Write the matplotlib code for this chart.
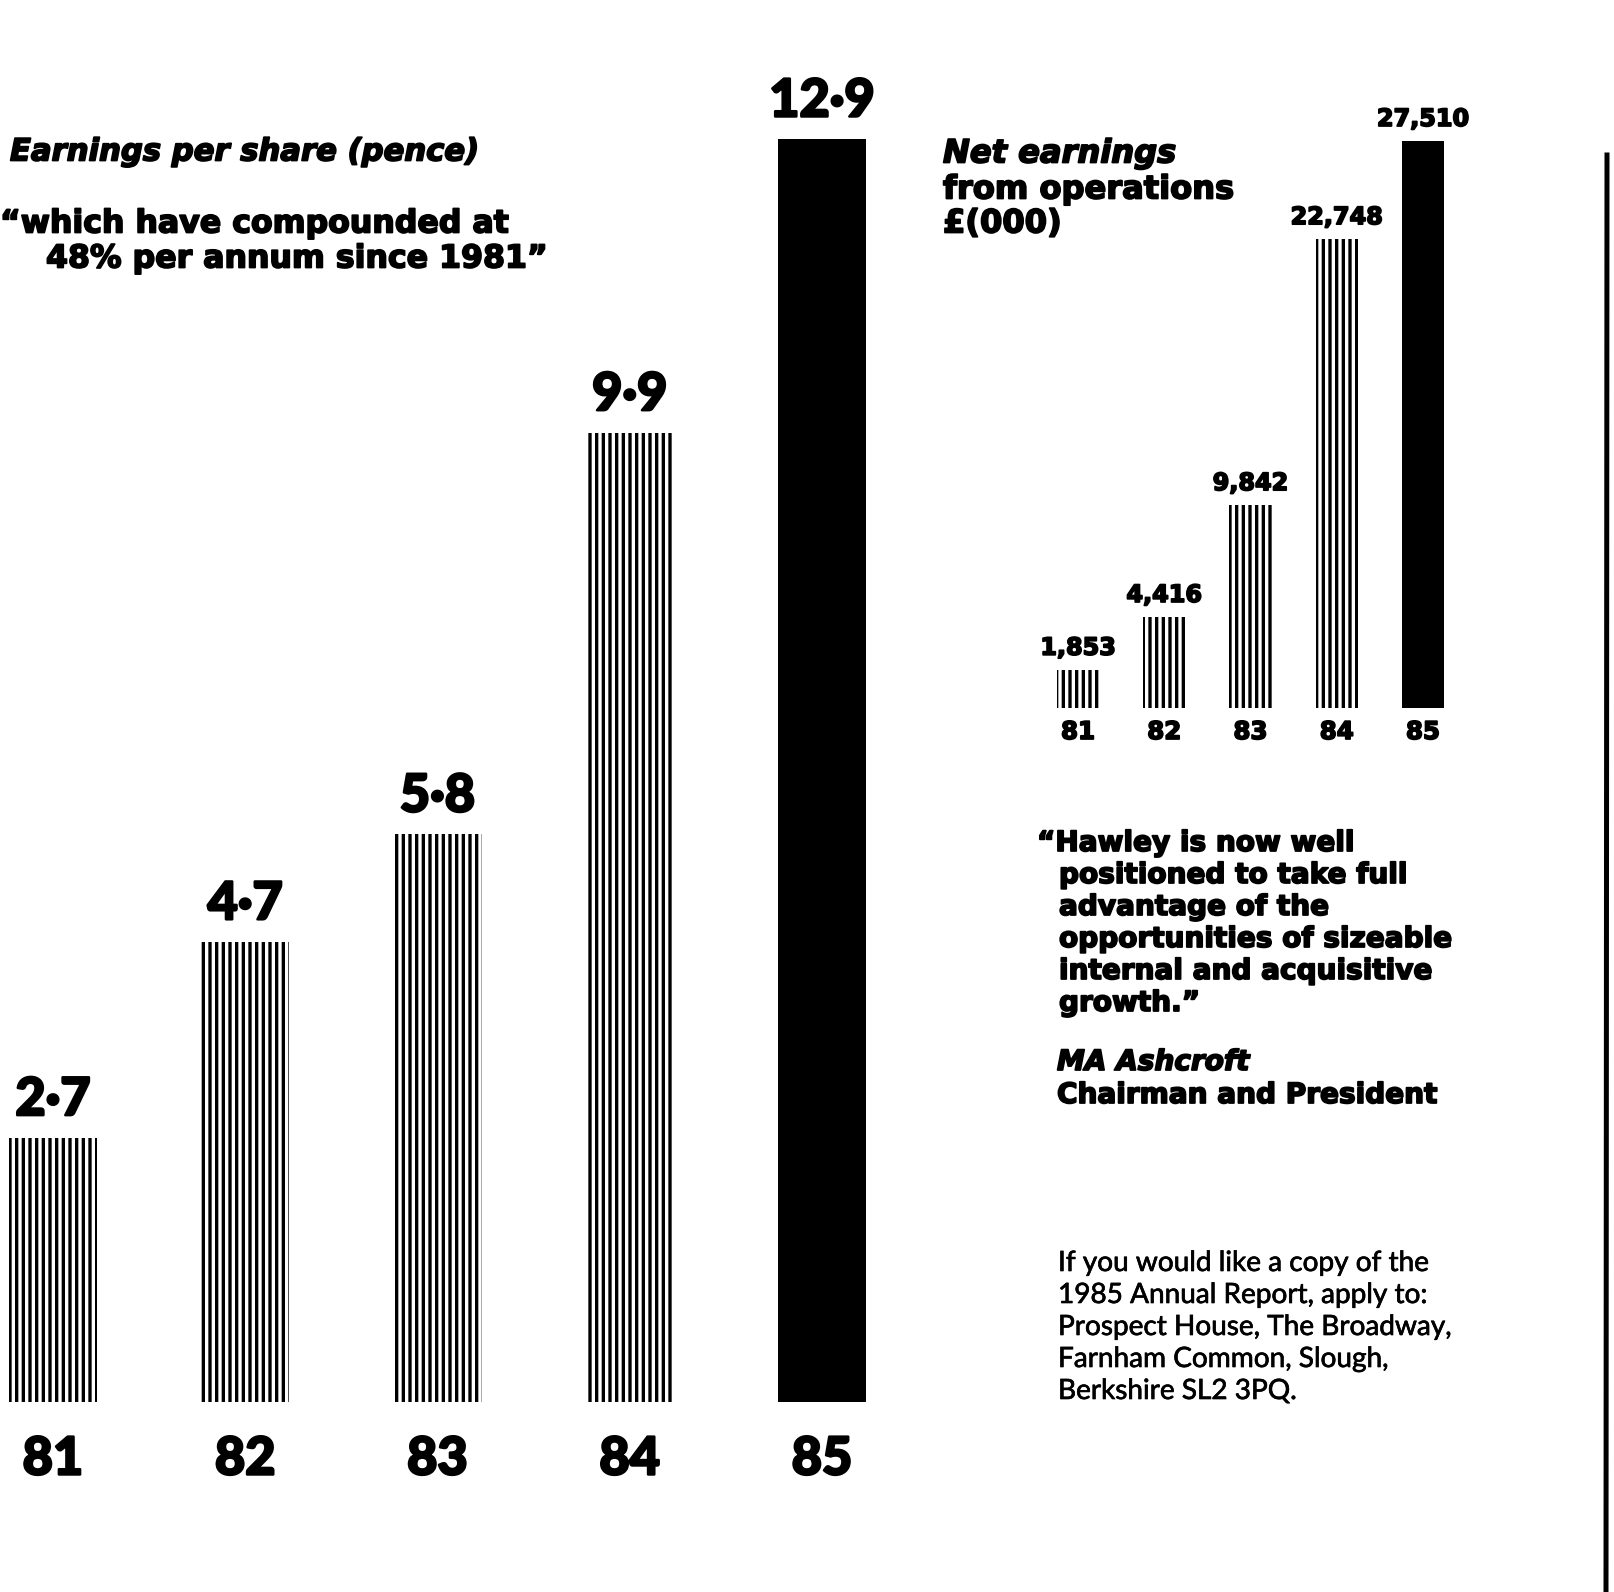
import matplotlib
matplotlib.use("Agg")
import matplotlib.pyplot as plt
import matplotlib.patheffects as pe
from matplotlib.lines import Line2D

# Data read from the advert
years = ["81", "82", "83", "84", "85"]
eps_pence = [2.7, 4.7, 5.8, 9.9, 12.9]
eps_labels = ["2·7", "4·7", "5·8", "9·9", "12·9"]
net_earnings = [1853, 4416, 9842, 22748, 27510]
net_labels = ["1,853", "4,416", "9,842", "22,748", "27,510"]

W, H = 1614, 1592
DPI = 80

plt.rcParams['font.family'] = ['Lato', 'DejaVu Sans']
plt.rcParams['hatch.linewidth'] = 3.0

HEAVY = ['DejaVu Sans']
# thicken the glyphs a bit, the print face is very heavy
THICK = [pe.withStroke(linewidth=1.6, foreground='black')]
THICK_BIG = [pe.withStroke(linewidth=2.2, foreground='black')]


def fx(px):
    return px / W


def fy(py):
    return 1 - py / H


def pt(px):
    # pixel offset -> points
    return px * 72 / DPI


fig = plt.figure(figsize=(W / DPI, H / DPI), dpi=DPI)
fig.patch.set_facecolor('white')
renderer = fig.canvas.get_renderer()


def fit_size(text, width_px, **kw):
    """font size that makes text about width_px wide"""
    t = fig.text(0, 0, text, fontsize=20, **kw)
    w = t.get_window_extent(renderer).width
    t.remove()
    return 20 * width_px / w


# Left chart: earnings per share
ax1 = fig.add_axes([fx(0), fy(1402), fx(880), (1402 - 139) / H])
ax1.set_xlim(-53 / 192.25, (880 - 53) / 192.25)
ax1.set_ylim(0, max(eps_pence))
ax1.axis('off')
colors1 = ['white'] * 4 + ['black']
hatches1 = ['||'] * 4 + ['']
for i, v in enumerate(eps_pence):
    ax1.bar(i, v, width=0.46, color=colors1[i], edgecolor='black',
            linewidth=0, hatch=hatches1[i])
    ax1.annotate(eps_labels[i], (i, v), xytext=(0, pt(37)),
                 textcoords='offset points', ha='center', va='center',
                 fontsize=47, fontweight='black', annotation_clip=False,
                 path_effects=THICK_BIG)
    ax1.annotate(years[i], (i, 0), xytext=(0, -pt(58)),
                 textcoords='offset points', ha='center', va='center',
                 fontsize=47, fontweight='black', annotation_clip=False,
                 path_effects=THICK_BIG)

# Right chart: net earnings from operations
ax2 = fig.add_axes([fx(1000), fy(708), fx(480), (708 - 141) / H])
ax2.set_xlim(-78 / 86.25, (1480 - 1078) / 86.25)
ax2.set_ylim(0, max(net_earnings))
ax2.axis('off')
for i, v in enumerate(net_earnings):
    ax2.bar(i, v, width=0.49, color=colors1[i], edgecolor='black',
            linewidth=0, hatch=hatches1[i])
    ax2.annotate(net_labels[i], (i, v), xytext=(0, pt(22)),
                 textcoords='offset points', ha='center', va='center',
                 fontsize=21.5, fontweight='bold', family=HEAVY,
                 annotation_clip=False, path_effects=THICK)
    ax2.annotate(years[i], (i, 0), xytext=(0, -pt(24)),
                 textcoords='offset points', ha='center', va='center',
                 fontsize=22, fontweight='bold', family=HEAVY,
                 annotation_clip=False, path_effects=THICK)

bold = dict(fontweight='bold', family=HEAVY, path_effects=THICK)

# Left headings
s = fit_size("Earnings per share (pence)", 470, style='italic', **bold)
fig.text(fx(10), fy(152), "Earnings per share (pence)", fontsize=s,
         style='italic', va='center', **bold)
s = fit_size("\u201cwhich have compounded at", 510, **bold)
fig.text(fx(0), fy(224), "\u201cwhich have compounded at", fontsize=s,
         va='center', **bold)
fig.text(fx(46), fy(259), "48% per annum since 1981\u201d", fontsize=s,
         va='center', **bold)

# Right headings
s = fit_size("from operations", 292, **bold)
fig.text(fx(943), fy(154), "Net earnings", fontsize=s,
         style='italic', va='center', **bold)
fig.text(fx(943), fy(190), "from operations", fontsize=s,
         va='center', **bold)
fig.text(fx(943), fy(224), "£(000)", fontsize=s, va='center', **bold)

# Chairman's quote
quote = ["positioned to take full", "advantage of the",
         "opportunities of sizeable", "internal and acquisitive",
         "growth.\u201d"]
s = fit_size("opportunities of sizeable", 394, **bold)
fig.text(fx(1037), fy(843), "\u201cHawley is now well", fontsize=s,
         va='center', **bold)
for k, line in enumerate(quote):
    fig.text(fx(1059), fy(875 + 32 * k), line, fontsize=s,
             va='center', **bold)
fig.text(fx(1057), fy(1062), "MA Ashcroft", fontsize=s,
         style='italic', va='center', **bold)
fig.text(fx(1057), fy(1095), "Chairman and President", fontsize=s,
         va='center', **bold)

# Address
address = ["If you would like a copy of the",
           "1985 Annual Report, apply to:",
           "Prospect House, The Broadway,",
           "Farnham Common, Slough,",
           "Berkshire SL2 3PQ."]
s = fit_size(address[2], 395)
for k, line in enumerate(address):
    fig.text(fx(1058), fy(1263 + 32 * k), line, fontsize=s,
             fontweight='normal', va='center',
             path_effects=[pe.withStroke(linewidth=0.6, foreground='black')])

# page edge on the right
fig.add_artist(Line2D([fx(1607), fx(1606)], [fy(155), fy(1592)],
                      color='black', linewidth=pt(5)))

fig.savefig("out.png", dpi=DPI, facecolor='white')
